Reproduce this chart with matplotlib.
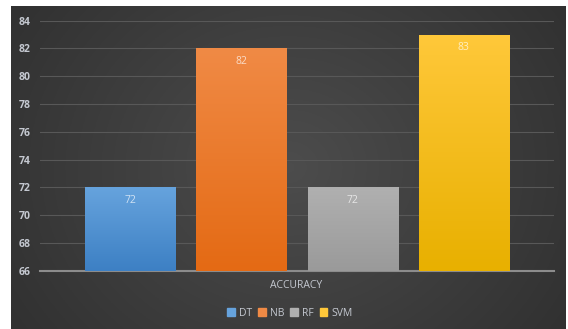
import numpy as np
import matplotlib.pyplot as plt
from matplotlib.patches import Rectangle

# datos del grafico
models = ['DT', 'NB', 'RF', 'SVM']
accuracy = [72, 82, 72, 83]
category = 'ACCURACY'
yticks = [66, 68, 70, 72, 74, 76, 78, 80, 82, 84]

top_colors = ['#66a3dd', '#f08a45', '#b0b0b0', '#ffc83a']
bottom_colors = ['#3d80c4', '#e46a14', '#9a9a9a', '#e8b000']

W, H = 568, 329
fig = plt.figure(figsize=(W / 100, H / 100), dpi=100, facecolor='white')

# fondo oscuro con degradado
bg = fig.add_axes([11 / W, 0, (566 - 11) / W, (H - 6) / H])
xx, yy = np.meshgrid(np.linspace(-1, 1, 300), np.linspace(-1, 1, 200))
r = np.sqrt((xx * 0.9) ** 2 + (yy * 0.6) ** 2)
shade = 0.30 - 0.10 * np.clip(r, 0, 1.3)
bg.imshow(np.dstack([shade, shade, shade]), aspect='auto', extent=[0, 1, 0, 1])
bg.set_axis_off()

ax = fig.add_axes([40 / W, (H - 270.7) / H, (554 - 40) / W, 250 / H])
ax.set_facecolor('none')

x = np.arange(len(models))
width = 0.81
bars = ax.bar(x, [a - 66 for a in accuracy], width, bottom=66, color=top_colors, zorder=3)

# degradado vertical en cada barra
for i, b in enumerate(bars):
    c1 = np.array(plt.matplotlib.colors.to_rgb(top_colors[i]))
    c2 = np.array(plt.matplotlib.colors.to_rgb(bottom_colors[i]))
    t = np.linspace(0, 1, 100)[:, None]
    img = (c1 * (1 - t) + c2 * t)[:, None, :]
    x0, y0 = b.get_x(), b.get_y()
    im = ax.imshow(img, aspect='auto', extent=[x0, x0 + b.get_width(), y0, y0 + b.get_height()],
                   zorder=3, origin='upper')
    im.set_clip_path(b)
    ax.text(x0 + b.get_width() / 2, y0 + b.get_height() - 0.95, str(accuracy[i]),
            ha='center', va='center', color='white', alpha=0.7, fontsize=7.5,
            family='Open Sans', zorder=4)

ax.set_xlim(-0.81, 3.81)
ax.set_ylim(66, 84)
ax.set_yticks(yticks)
ax.set_xticks([])
ax.grid(axis='y', color='#585858', linewidth=0.8, zorder=0)
for s in ['top', 'right', 'left']:
    ax.spines[s].set_visible(False)
ax.spines['bottom'].set_color('#8c8c8c')
ax.spines['bottom'].set_linewidth(1.5)
ax.tick_params(axis='y', length=0, pad=7, labelcolor='#c4c8d0', labelsize=7.5)
for lbl in ax.get_yticklabels():
    lbl.set_family('Open Sans')
    lbl.set_weight('bold')

fig.text(296 / W, 1 - 286 / H, category, ha='center', va='center', color='#c4c8d0',
         fontsize=7.5, family='Open Sans')

# leyenda
handles = [Rectangle((0, 0), 1, 1, color=c) for c in top_colors]
leg = fig.legend(handles, models, loc='center', bbox_to_anchor=(290 / W, 1 - 313 / H), ncol=4,
                 frameon=False, handlelength=0.7, handleheight=0.7,
                 handletextpad=0.4, columnspacing=0.6, labelcolor='#c4c8d0',
                 prop={'family': 'Open Sans', 'size': 7.5})

plt.savefig('out.png', dpi=100, facecolor='white')
